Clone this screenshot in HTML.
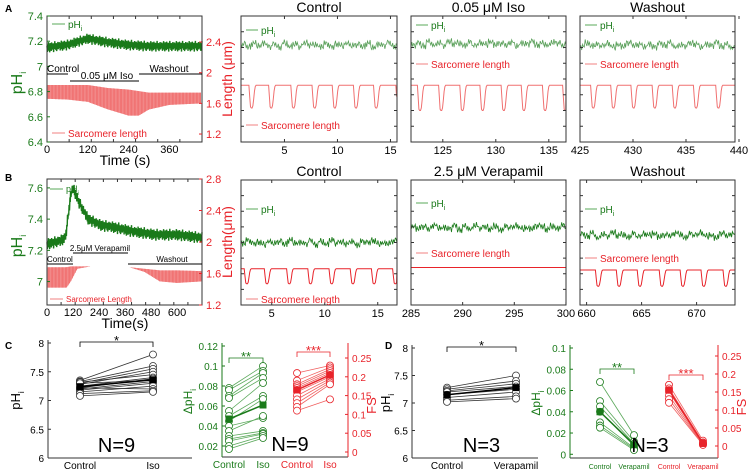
<!DOCTYPE html>
<html><head><meta charset="utf-8">
<style>
html,body{margin:0;padding:0;background:#fff;}
svg{display:block;font-family:"Liberation Sans",Arial,sans-serif;}
</style></head>
<body>
<svg id="fig" width="749" height="470" viewBox="0 0 749 470" xmlns="http://www.w3.org/2000/svg"></svg>
<script>
// ---------- data ----------
const GREEN="#1a7a1a", LG="#5aa85a", RED="#e8232a", LR="#f08080";
const jitter=[0.3,-0.8,0.5,-0.2,0.9,-0.6,0.1,-0.9,0.7,-0.3,0.4,-0.7,0.8,-0.1,0.2,-0.5,0.6,-0.95,0.35,-0.4,0.95,-0.25,0.15,-0.65,0.55,-0.85,0.45,-0.15,0.75,-0.55,0.05,-0.35,0.65];
// Panel A overview
const aPhT=[0,60,120,180,240,300,360,456];
const aPhV=[7.15,7.17,7.22,7.19,7.17,7.16,7.16,7.16];
const aSlT=[0,60,120,180,240,270,300,360,456];
const aSlTop=[1.84,1.84,1.84,1.8,1.78,1.76,1.74,1.74,1.74];
const aSlBot=[1.66,1.65,1.62,1.52,1.44,1.44,1.52,1.58,1.6];
// Panel B overview
const bPhT=[0,60,85,110,120,150,190,250,300,400,500,600,715];
const bPhV=[7.24,7.26,7.28,7.56,7.6,7.5,7.4,7.36,7.35,7.32,7.3,7.3,7.28];
const bSlT=[0,60,90,110,140,200,380,450,520,600,715];
const bSlTop=[1.68,1.68,1.68,1.69,1.69,1.69,1.68,1.66,1.64,1.64,1.63];
const bSlBot=[1.42,1.42,1.42,1.5,1.66,1.69,1.68,1.62,1.5,1.48,1.5];
// zoom traces (beat times, s)
const aCtrlBeats=[1.85,3.7,5.8,7.8,9.7,11.7,13.6,15.7];
const aIsoBeats=[122.8,124.8,126.8,128.7,130.7,132.6,134.6,136.5];
const aWashBeats=[426.2,428.1,430.0,432.0,433.9,435.9,438.0];
const bCtrlBeats=[2.6,4.5,6.6,8.6,10.6,12.6,14.6,16.6];
const bVerBeats=[];
const bWashBeats=[661.0,662.9,664.8,666.8,668.7,670.6,672.6];
const dipShape=[0,0.5,0.95,1,1,0.9,0.6,0.25,0.05,0];
// C
const cPhCtrl=[7.35,7.33,7.3,7.28,7.32,7.25,7.22,7.3,7.2,7.18,7.15,7.22,7.12,7.08];
const cPhIso =[7.8,7.6,7.55,7.5,7.45,7.4,7.38,7.35,7.33,7.3,7.25,7.2,7.17,7.15];
const cPhMean=[7.24,7.36];
const cDpCtrl=[0.078,0.076,0.07,0.068,0.055,0.05,0.045,0.04,0.035,0.03,0.027,0.025,0.02,0.017];
const cDpIso =[0.1,0.095,0.093,0.088,0.083,0.07,0.067,0.048,0.05,0.035,0.033,0.032,0.03,0.028];
const cDpMean=[0.047,0.061];
const cFsCtrl=[0.21,0.19,0.18,0.175,0.17,0.165,0.16,0.15,0.14,0.13,0.12,0.11];
const cFsIso =[0.23,0.225,0.22,0.215,0.21,0.205,0.2,0.195,0.19,0.185,0.18,0.14];
const cFsMean=[0.165,0.205];
// D
const dPhCtrl=[7.28,7.25,7.22,7.2,7.15,7.1,7.05,7.02];
const dPhVer =[7.5,7.4,7.35,7.3,7.25,7.2,7.12,7.08];
const dPhMean=[7.15,7.28];
const dDpCtrl=[0.068,0.05,0.045,0.04,0.03,0.027,0.025];
const dDpVer =[0.018,0.012,0.01,0.008,0.006,0.005,0.004];
const dDpMean=[0.04,0.009];
const dFsCtrl=[0.17,0.16,0.155,0.15,0.14,0.13,0.12];
const dFsVer =[0.015,0.01,0.008,0.006,0.005,0.004,0.003];
const dFsMean=[0.155,0.007];

// ---------- helpers ----------
const svg=document.getElementById('fig');
const NS="http://www.w3.org/2000/svg";
function mk(tag,attrs,name,parent){
  const e=document.createElementNS(NS,tag);
  for(const k in attrs) e.setAttribute(k,attrs[k]);
  
  
  (parent||svg).appendChild(e);return e;
}
function txt(x,y,s,size,color,anchor,name,rot){
  const t=mk('text',{x:x,y:y,'font-size':size,fill:color,'text-anchor':anchor||'middle'},name);
  if(rot) t.setAttribute('transform','rotate('+rot+' '+x+' '+y+')');
  t.innerHTML=s;return t;
}
function ln(x1,y1,x2,y2,c,w,name){return mk('line',{x1:x1,y1:y1,x2:x2,y2:y2,stroke:c,'stroke-width':w||1},name);}
function lin(d0,d1,p0,p1){return v=>p0+(v-d0)/(d1-d0)*(p1-p0);}
function interp(ts,vs,t){
  if(t<=ts[0])return vs[0];
  for(let i=1;i<ts.length;i++) if(t<=ts[i]) return vs[i-1]+(vs[i]-vs[i-1])*(t-ts[i-1])/(ts[i]-ts[i-1]);
  return vs[vs.length-1];
}
function frame(x0,y0,x1,y1,name){mk('rect',{x:x0,y:y0,width:x1-x0,height:y1-y0,fill:'none',stroke:'#333','stroke-width':1},name);}
function ticksX(x0,x1,y,n,dir,name){for(let i=0;i<=n;i++){const x=x0+(x1-x0)*i/n;ln(x,y,x,y-3*dir,'#333',1,name);}}
function ticksY(x,y0,y1,n,dir,c,name){for(let i=0;i<=n;i++){const y=y0+(y1-y0)*i/n;ln(x,y,x+3*dir,y,c||'#333',1,name);}}

// panel labels
txt(5,12,'A',10,'#000','start','panel-label-a').setAttribute('font-weight','bold');
txt(5,181,'B',10,'#000','start','panel-label-b').setAttribute('font-weight','bold');
txt(5,349,'C',10,'#000','start','panel-label-c').setAttribute('font-weight','bold');
txt(385,349,'D',10,'#000','start','panel-label-d').setAttribute('font-weight','bold');

// ---------- overview panel ----------
function overview(o){
  const X=lin(0,o.xmax,47,202);
  const Yp=lin(o.phMin,o.phMax,o.yb,o.yt);
  const Yl=lin(o.lMin,o.lMax,o.yb,o.yt);
  let top=[],bot=[];
  for(let t=0;t<=o.xmax;t+=o.xmax/150){top.push(X(t)+','+Yl(interp(o.slT,o.slTop,t)));bot.unshift(X(t)+','+Yl(interp(o.slT,o.slBot,t)));}
  mk('polygon',{points:top.concat(bot).join(' '),fill:LR,opacity:0.85},o.p+'-sarcomere-trace');
  let d='';
  for(let t=0;t<=o.xmax;t+=o.xmax/110){d+='M'+X(t)+','+Yl(interp(o.slT,o.slTop,t))+'V'+Yl(interp(o.slT,o.slBot,t));}
  mk('path',{d:d,stroke:'#f06060','stroke-width':0.6,fill:'none'},o.p+'-sarcomere-beats');
  let pd='';
  for(let i=0;i<=400;i++){const t=o.xmax*i/400;const v=interp(o.phT,o.phV,t)+jitter[i%jitter.length]*o.band;pd+=(i?'L':'M')+X(t).toFixed(1)+','+Yp(v).toFixed(1);}
  mk('path',{d:pd,stroke:GREEN,'stroke-width':1.4,fill:'none'},o.p+'-ph-trace');
  frame(47,o.yt,202,o.yb,o.p+'-overview-frame');
  ticksX(47,202,o.yb,o.xmax/60|0,1,o.p+'-x-ticks');
  ticksX(47,202,o.yt,o.xmax/60|0,-1,o.p+'-x-top-ticks');
  o.phTicks.forEach(v=>{ln(47,Yp(v),50,Yp(v),GREEN,1,'ph-tick');txt(43,Yp(v)+4,v,11,GREEN,'end','ph-tick-label');});
  o.lTicks.forEach(v=>{ln(202,Yl(v),199,Yl(v),RED,1,'length-tick');txt(206,Yl(v)+4,v,11,RED,'start','length-tick-label');});
  o.xTicks.forEach(v=>txt(X(v),o.yb+11,v,11,'#000','middle','x-tick-label'));
  txt(125,o.yb+23,o.xlabel,14,'#000','middle',o.p+'-x-axis-title');
  txt(22,(o.yt+o.yb)/2+4,'pH<tspan font-size="9" dy="4">i</tspan>',16,GREEN,'middle',o.p+'-ph-axis-title',-90);
  txt(232,(o.yt+o.yb)/2,o.ltitle,14,RED,'middle',o.p+'-length-axis-title',-90);
}
overview({p:'a',xmax:456,phMin:6.4,phMax:7.4,lMin:1.096,lMax:2.74,yt:16,yb:142,
  phT:aPhT,phV:aPhV,slT:aSlT,slTop:aSlTop,slBot:aSlBot,band:0.045,
  phTicks:[6.4,6.6,6.8,7,7.2,7.4],lTicks:[1.2,1.6,2,2.4],xTicks:[0,120,240,360],xlabel:'Time (s)',ltitle:'Length (μm)'});
overview({p:'b',xmax:715,phMin:6.85,phMax:7.657,lMin:1.2,lMax:2.8,yt:179,yb:305,
  phT:bPhT,phV:bPhV,slT:bSlT,slTop:bSlTop,slBot:bSlBot,band:0.04,
  phTicks:[7,7.2,7.4,7.6],lTicks:[1.2,1.6,2,2.4,2.8],xTicks:[0,120,240,360,480,600],xlabel:'Time(s)',ltitle:'Length(μm)'});
ln(52,24,65,24,LG,1,'a-legend-ph-line');txt(68,28,'pH<tspan font-size="7" dy="3">i</tspan>',10,GREEN,'start','a-legend-ph');
ln(52,133,65,133,LR,1,'a-legend-sl-line');txt(68,137,'Sarcomere length',10,RED,'start','a-legend-sl');
txt(47,72,'Control',10,'#000','start','a-control-label');ln(47,74,68,74,'#000',1,'a-control-bar');
txt(107,79,'0.05 μM Iso',10,'#000','middle','a-iso-label');ln(70,81,139,81,'#000',1,'a-iso-bar');
txt(169,72,'Washout',10,'#000','middle','a-washout-label');ln(139,74,202,74,'#000',1,'a-washout-bar');
ln(50,189,63,189,LG,1,'b-legend-ph-line');txt(66,192,'pH<tspan font-size="6" dy="3">i</tspan>',9,GREEN,'start','b-legend-ph');
ln(50,299,63,299,LR,1,'b-legend-sl-line');txt(66,302,'Sarcomere Length',8,RED,'start','b-legend-sl');
txt(47,262,'Control',8,'#000','start','b-control-label');ln(47,264,73,264,'#000',1,'b-control-bar');
txt(100,251,'2.5μM Verapamil',8,'#000','middle','b-verapamil-label');ln(73,253,128,253,'#000',1,'b-verapamil-bar');
txt(172,262,'Washout',8,'#000','middle','b-washout-label');ln(128,264,202,264,'#000',1,'b-washout-bar');

// ---------- zoom panels ----------
function zoomPanel(o){
  const X=lin(o.t0,o.t0+(o.x1-o.x0)/o.pps,o.x0,o.x1);
  const Y=lin(0,100,o.yb,o.yt);
  let d='';const n=180;
  for(let i=0;i<=n;i++){const t=o.t0+(o.x1-o.x0)/o.pps*i/n;const v=o.ph+jitter[(i*7+o.seed)%jitter.length]*3+jitter[((i/6|0)+o.seed)%jitter.length]*2;d+=(i?'L':'M')+X(t).toFixed(1)+','+Y(v).toFixed(1);}
  mk('path',{d:d,stroke:o.phc,'stroke-width':0.8,fill:'none'},o.p+'-ph-trace');
  const tEnd=o.t0+(o.x1-o.x0)/o.pps;
  let s='M'+o.x0+','+Y(o.base);
  o.beats.forEach(b=>{dipShape.forEach((v,k)=>{const t=b-0.2+k*0.075;if(t>=o.t0&&t<=tEnd)s+='L'+X(t).toFixed(1)+','+Y(o.base-v*o.depth).toFixed(1);});});
  s+='L'+o.x1+','+Y(o.base);
  mk('path',{d:s,stroke:o.slc,'stroke-width':1,fill:'none'},o.p+'-sarcomere-trace');
  frame(o.x0,o.yt,o.x1,o.yb,o.p+'-frame');
  o.ticks.forEach(v=>{ln(X(v),o.yb,X(v),o.yb-3,'#333',1,'x-tick');ln(X(v),o.yt,X(v),o.yt+3,'#333',1,'x-tick');txt(X(v),o.yb+12,v,11,'#000','middle','x-tick-label');});
  ticksY(o.x0,o.yt,o.yb,8,1,'#333',o.p+'-left-ticks');ticksY(o.x1,o.yt,o.yb,8,-1,'#333',o.p+'-right-ticks');
  txt((o.x0+o.x1)/2,o.yt-4,o.title,14,'#000','middle',o.p+'-title');
  ln(o.x0+5,o.lphY,o.x0+17,o.lphY,LG,1,o.p+'-legend-ph-line');
  txt(o.x0+20,o.lphY+4,'pH<tspan font-size="7" dy="3">i</tspan>',10,GREEN,'start',o.p+'-legend-ph');
  ln(o.x0+5,o.lslY,o.x0+17,o.lslY,LR,1,o.p+'-legend-sl-line');
  txt(o.x0+20,o.lslY+4,'Sarcomere length',10,RED,'start',o.p+'-legend-sl');
}
const A={yt:16,yb:142},B={yt:180,yb:305};
zoomPanel({p:'a-control',x0:241,x1:397,t0:0.9,pps:10.6,...A,ph:77,base:45,depth:18,beats:aCtrlBeats,ticks:[5,10,15],title:'Control',lphY:30,lslY:125,phc:'#5aa05a',slc:'#f07070',seed:0});
zoomPanel({p:'a-iso',x0:411,x1:566,t0:122,pps:10.6,...A,ph:78,base:45,depth:20,beats:aIsoBeats,ticks:[125,130,135],title:'0.05 μM Iso',lphY:25,lslY:64,phc:'#5aa05a',slc:'#f07070',seed:5});
zoomPanel({p:'a-washout',x0:580,x1:735,t0:425,pps:10.6,...A,ph:77,base:45,depth:18,beats:aWashBeats,ticks:[425,430,435,440],title:'Washout',lphY:25,lslY:64,phc:'#5aa05a',slc:'#f07070',seed:11});
zoomPanel({p:'b-control',x0:241,x1:397,t0:2.1,pps:10.6,...B,ph:50,base:29,depth:12,beats:bCtrlBeats,ticks:[5,10,15],title:'Control',lphY:209,lslY:299,phc:GREEN,slc:RED,seed:3});
zoomPanel({p:'b-verapamil',x0:411,x1:566,t0:285,pps:10.33,...B,ph:62,base:30,depth:0,beats:bVerBeats,ticks:[285,290,295,300],title:'2.5 μM Verapamil',lphY:203,lslY:253,phc:GREEN,slc:RED,seed:8});
zoomPanel({p:'b-washout',x0:580,x1:735,t0:659.4,pps:11,...B,ph:56,base:28,depth:13,beats:bWashBeats,ticks:[660,665,670],title:'Washout',lphY:209,lslY:258,phc:GREEN,slc:RED,seed:14});

// ---------- scatter panels ----------
function circle(x,y,r,fill,stroke,name){mk('circle',{cx:x,cy:y,r:r,fill:fill,stroke:stroke,'stroke-width':0.8},name);}
function pairs(xa,xb,Y,ca,cb,col,lineCol,p){
  ca.forEach((v,i)=>ln(xa,Y(v),xb,Y(cb[i]),lineCol,0.8,p+'-pair-line'));
  ca.forEach(v=>circle(xa,Y(v),3.5,'#fff',col,p+'-control-point'));
  cb.forEach(v=>circle(xb,Y(v),3.5,'#fff',col,p+'-treated-point'));
}
function meanPair(xa,xb,Y,m,col,p){
  ln(xa,Y(m[0]),xb,Y(m[1]),col,1.5,p+'-mean-line');
  mk('rect',{x:xa-3.5,y:Y(m[0])-3.5,width:7,height:7,fill:col},p+'-mean-control');
  mk('rect',{x:xb-3.5,y:Y(m[1])-3.5,width:7,height:7,fill:col},p+'-mean-treated');
}
function bracket(x1,x2,y,star,col,p){
  mk('path',{d:`M${x1},${y+5}V${y}H${x2}V${y+5}`,stroke:col,fill:'none','stroke-width':0.8},p+'-sig-bracket');
  txt((x1+x2)/2,y+3,star,13,col,'middle',p+'-sig-star');
}
function phPanel(p,x0,x1,xa,xb,yT,yB,ca,cb,m,lab,nTxt,titleX){
  const Y=lin(6,8,yB,yT);
  ln(x0,yT-3,x0,yB,'#333',1,p+'-y-axis');
  ln(x0,yB,x1,yB,'#333',1,p+'-x-axis');
  [6,6.5,7,7.5,8].forEach(v=>{ln(x0,Y(v),x0+3,Y(v),'#333',1,'y-tick');txt(x0-4,Y(v)+4,v,10,'#000','end','y-tick-label');});
  txt(titleX,(yT+yB)/2,'pH<tspan font-size="8" dy="4">i</tspan>',13,'#000','middle',p+'-y-axis-title',-90);
  pairs(xa,xb,Y,ca,cb,'#333','#333',p);
  meanPair(xa,xb,Y,m,'#000',p);
  bracket(xa,xb,yT-1,'*','#000',p);
  txt((xa+xb)/2,yB-6,nTxt,20,'#000','middle',p+'-n-label');
  txt(xa,yB+11,'Control',10,'#000','middle','x-category-control');
  txt(xb,yB+11,lab,10,'#000','middle','x-category-treated');
}
phPanel('c-ph',48,192,80,153,343,458,cPhCtrl,cPhIso,cPhMean,'Iso','N=9',20);
phPanel('d-ph',412,538,447,516,348,458,dPhCtrl,dPhVer,dPhMean,'Verapamil','N=3',390);

function dualPanel(p,x0,x1,yT,yB,dpMax,dpMin,dpTicks,fsMax,fsTicks,gx,rx,dC,dT,dM,fC,fT,fM,lab,nTxt,nx,catSize,bY){
  const Yd=lin(dpMin,dpMax,yB,yT), Yf=lin(0,fsMax,fsTicks.y0,fsTicks.y1);
  ln(x0,yB,x1,yB,'#333',1,p+'-x-axis');
  mk('line',{x1:x0,y1:yT-3,x2:x0,y2:yB,stroke:GREEN},p+'-left-axis');
  mk('line',{x1:x1,y1:yT-3,x2:x1,y2:yB,stroke:RED},p+'-right-axis');
  dpTicks.forEach(v=>{ln(x0,Yd(v),x0+3,Yd(v),GREEN,1,'dph-tick');txt(x0-4,Yd(v)+4,v,10,GREEN,'end','dph-tick-label');});
  fsTicks.v.forEach(v=>{ln(x1,Yf(v),x1-3,Yf(v),RED,1,'fs-tick');txt(x1+4,Yf(v)+4,v,10,RED,'start','fs-tick-label');});
  txt(x0-30,(yT+yB)/2,'ΔpH<tspan font-size="8" dy="4">i</tspan>',12,GREEN,'middle',p+'-dph-axis-title',-90);
  txt(x1+28,(yT+yB)/2+4,'FS',13,RED,'middle',p+'-fs-axis-title',-90);
  pairs(gx[0],gx[1],Yd,dC,dT,GREEN,LG,p+'-dph');
  meanPair(gx[0],gx[1],Yd,dM,GREEN,p+'-dph');
  pairs(rx[0],rx[1],Yf,fC,fT,RED,'#f06060',p+'-fs');
  meanPair(rx[0],rx[1],Yf,fM,RED,p+'-fs');
  bracket(gx[0],gx[1],bY[0],'**',GREEN,p+'-dph');
  bracket(rx[0],rx[1],bY[1],'***',RED,p+'-fs');
  txt(nx,yB-6,nTxt,20,'#000','middle',p+'-n-label');
  txt(gx[0],yB+11,'Control',catSize,GREEN,'middle','x-category-control');
  txt(gx[1],yB+11,lab,catSize,GREEN,'middle','x-category-treated');
  txt(rx[0],yB+11,'Control',catSize,RED,'middle','x-category-control');
  txt(rx[1],yB+11,lab,catSize,RED,'middle','x-category-treated');
}
dualPanel('c-dual',222,348,346,457,0.12,0.009,[0.02,0.04,0.06,0.08,0.1,0.12],0.25,{y0:452,y1:358,v:[0,0.05,0.1,0.15,0.2,0.25]},
  [229,263],[297,330],cDpCtrl,cDpIso,cDpMean,cFsCtrl,cFsIso,cFsMean,'Iso','N=9',290,10,[358,352]);
dualPanel('d-dual',570,718,348,458,0.1,-0.0035,[0,0.02,0.04,0.06,0.08,0.1],0.25,{y0:446,y1:356,v:[0,0.05,0.1,0.15,0.2,0.25]},
  [600,634],[669,703],dDpCtrl,dDpVer,dDpMean,dFsCtrl,dFsVer,dFsMean,'Verapamil','N=3',650,7,[369,375]);
</script>
</body></html>
